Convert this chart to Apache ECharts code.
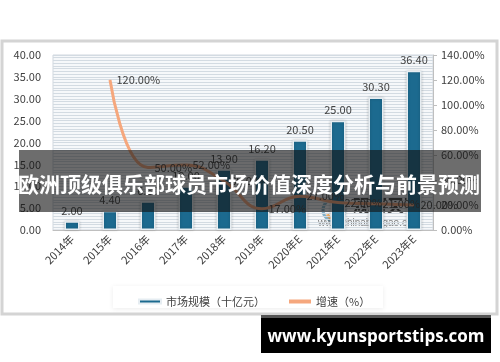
<!DOCTYPE html>
<html><head><meta charset="utf-8">
<script src="https://cdn.jsdelivr.net/npm/echarts@6/dist/echarts.min.js"></script>
<style>html,body{margin:0;padding:0;background:#fff}#c{width:500px;height:362px}</style>
</head><body><div id="c"></div>
<script>
var categories = ['2014年','2015年','2016年','2017年','2018年','2019年','2020年E','2021年E','2022年E','2023年E'];
var marketSize = [2.00, 4.40, 6.60, 10.00, 13.90, 16.20, 20.50, 25.00, 30.30, 36.40];
var growthRate = ['-', 120.00, 50.00, 52.00, 39.00, 17.00, 27.00, 22.00, 21.00, 20.00];
var leftTicks = [0, 40, 5];
var rightTicks = [0, 140, 20];
var seriesNames = ['市场规模（十亿元）', '增速（%）'];
var bannerText = '欧洲顶级俱乐部球员市场价值深度分析与前景预测';
var siteText = 'www.kyunsportstips.com';

var font = '"Noto Sans CJK SC", "Liberation Sans", sans-serif';
var chart = echarts.init(document.getElementById('c'), null, {renderer: 'canvas'});
chart.setOption({
  animation: false,
  backgroundColor: '#fff',
  textStyle: {fontFamily: font},
  graphic: [
    {type: 'rect', z: -10, shape: {x: 2, y: 41, width: 495, height: 273},
     style: {fill: '#fff', stroke: '#d4d4d4', lineWidth: 3}},
    {type: 'rect', z: -5, shape: {x: 113, y: 286, width: 270, height: 22},
     style: {fill: '#fff', shadowBlur: 5, shadowColor: 'rgba(0,0,0,0.08)', shadowOffsetY: 1}},
    {type: 'group', z: 90, children: [
      {type: 'circle', shape: {cx: 334, cy: 210, r: 11}, style: {fill: 'none', stroke: 'rgba(40,120,160,0.55)', lineWidth: 3}},
      {type: 'arc', shape: {cx: 334, cy: 212, r: 7, startAngle: 0.3, endAngle: 2.8}, style: {fill: 'none', stroke: 'rgba(230,140,40,0.7)', lineWidth: 3}},
      {type: 'text', style: {x: 353, y: 206, text: '观研天下', fill: 'rgba(20,20,20,0.8)', font: 'bold 17px ' + font, textVerticalAlign: 'middle'}},
      {type: 'text', style: {x: 318, y: 223, text: 'www.chinabaogao.com', fill: 'rgba(60,60,60,0.65)', font: '10px "Liberation Sans", sans-serif', textVerticalAlign: 'middle'}}
    ]},
    {type: 'rect', z: 100, shape: {x: 19, y: 150, width: 462, height: 62},
     style: {fill: 'rgba(20,20,20,0.62)'}},
    {type: 'text', z: 101, style: {x: 249, y: 184, text: bannerText, fill: '#fff',
     font: 'bold 21px "Noto Sans CJK SC", sans-serif', textAlign: 'center', textVerticalAlign: 'middle'}},
    {type: 'rect', z: 100, shape: {x: 261, y: 315, width: 230, height: 4}, style: {fill: '#555'}},
    {type: 'rect', z: 100, shape: {x: 261, y: 318, width: 230, height: 35}, style: {fill: '#000'}},
    {type: 'text', z: 101, style: {x: 376, y: 337, text: siteText, fill: '#fff',
     font: 'bold 17px "Open Sans", "DejaVu Sans", sans-serif', textAlign: 'center', textVerticalAlign: 'middle'}}
  ],
  grid: {left: 53, right: 67, top: 55, bottom: 132, show: true, backgroundColor: '#f6f8fa', borderColor: '#d0d7de', borderWidth: 1},
  legend: {
    left: 133, top: 291, itemWidth: 22, itemHeight: 4, itemGap: 24,
    textStyle: {fontSize: 11, color: '#404040', fontFamily: font},
    data: [{name: seriesNames[0], icon: 'rect', itemStyle: {color: '#1c6a8f'}},
           {name: seriesNames[1], icon: 'rect', itemStyle: {color: '#f5a77d', opacity: 1}}]
  },
  xAxis: {
    type: 'category', data: categories,
    axisLine: {show: true, lineStyle: {color: '#bfbfbf'}},
    axisTick: {show: false},
    axisLabel: {rotate: 45, fontSize: 11, color: '#404040', margin: 7, interval: 0}
  },
  yAxis: [
    {type: 'value', min: leftTicks[0], max: leftTicks[1], interval: leftTicks[2],
     axisLabel: {fontSize: 11, color: '#404040', margin: 12, formatter: function(v){return v.toFixed(2);}},
     axisLine: {show: false}, axisTick: {show: false},
     splitLine: {show: true, lineStyle: {color: '#bcc6cf'}}},
    {type: 'value', min: rightTicks[0], max: rightTicks[1], interval: rightTicks[2], position: 'right',
     axisLabel: {fontSize: 11, color: '#404040', margin: 8, formatter: function(v){return v.toFixed(2) + '%';}},
     axisLine: {show: true, lineStyle: {color: '#bfbfbf'}},
     axisTick: {show: true, length: 4, lineStyle: {color: '#bfbfbf'}},
     splitLine: {show: false}},
    {type: 'value', min: 0, max: 40, interval: 0.625, position: 'left', z: 0,
     axisLabel: {show: false}, axisLine: {show: false}, axisTick: {show: false},
     splitLine: {show: true, lineStyle: {color: '#d3dbe2', width: 1}}}
  ],
  series: [
    {name: seriesNames[0], type: 'bar', data: marketSize, barWidth: 15, yAxisIndex: 0,
     itemStyle: {color: '#1c6a8f', borderColor: '#e6edf2', borderWidth: 1.5,
       shadowBlur: 3, shadowColor: 'rgba(0,0,0,0.2)'},
     label: {show: true, position: 'top', distance: 5, fontSize: 11, color: '#404040',
       formatter: function(p){return p.value.toFixed(2);}}},
    {name: seriesNames[1], type: 'line', data: growthRate, yAxisIndex: 1, smooth: 0.45,
     showSymbol: true, symbol: 'circle', symbolSize: 1,
     lineStyle: {color: '#f5a77d', width: 3},
     itemStyle: {color: '#f5a77d'},
     label: {show: true, position: 'right', distance: 6, fontSize: 11, color: '#404040',
       formatter: function(p){return p.value.toFixed(2) + '%';}}}
  ]
});
</script></body></html>
